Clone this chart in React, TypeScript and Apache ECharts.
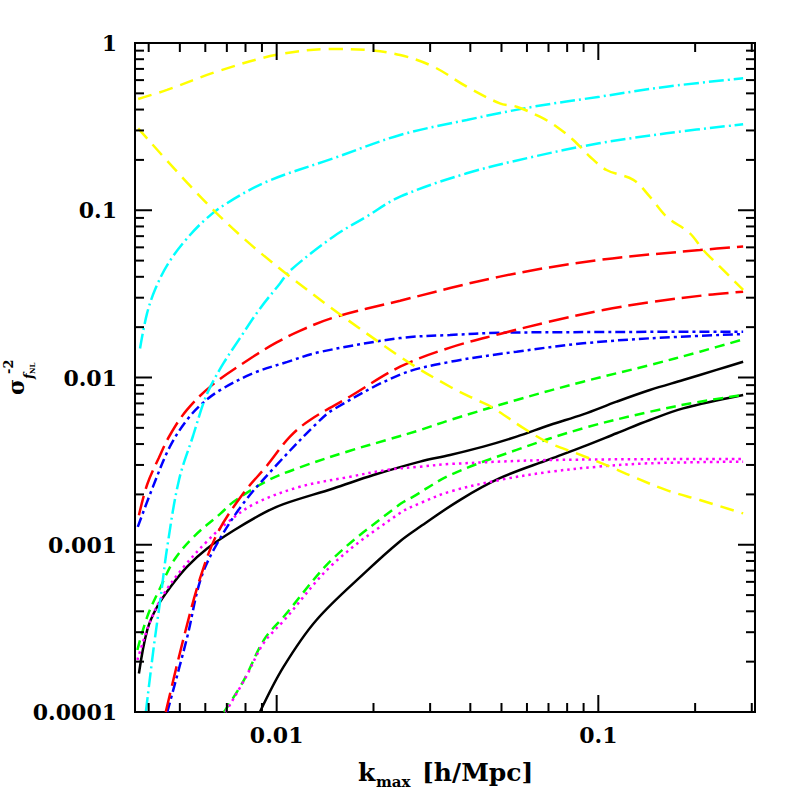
import React, { useEffect, useRef } from 'react';
import * as echarts from 'echarts';

const X_MIN = 0.003627;
const X_MAX = 0.307;
const Y_MIN = 0.0001;
const Y_MAX = 1;

const xTickLabels = ['0.01', '0.1'];
const yTickLabels = ['0.0001', '0.001', '0.01', '0.1', '1'];
const xMajorTicks = [0.01, 0.1];
const xMinorTicks = [0.004, 0.005, 0.006, 0.007, 0.008, 0.009, 0.02, 0.03, 0.04, 0.05, 0.06, 0.07, 0.08, 0.09, 0.2, 0.3];
const yMajorTicks = [0.0001, 0.001, 0.01, 0.1, 1];
const yMinorTicks = [
  0.0002, 0.0003, 0.0004, 0.0005, 0.0006, 0.0007, 0.0008, 0.0009,
  0.002, 0.003, 0.004, 0.005, 0.006, 0.007, 0.008, 0.009,
  0.02, 0.03, 0.04, 0.05, 0.06, 0.07, 0.08, 0.09,
  0.2, 0.3, 0.4, 0.5, 0.6, 0.7, 0.8, 0.9,
];

// [k_max, sigma^-2]
const blackHi = [[0.00373, 0.00017], [0.00396, 0.00031], [0.00425, 0.000426], [0.00468, 0.000561], [0.00527, 0.00074], [0.00608, 0.00095], [0.00737, 0.00122], [0.00913, 0.00155], [0.0105, 0.00175], [0.015, 0.00217], [0.02, 0.00261], [0.0279, 0.00314], [0.0346, 0.00344], [0.0439, 0.00386], [0.0557, 0.00443], [0.0707, 0.0052], [0.0897, 0.00602], [0.114, 0.00717], [0.1446, 0.00842], [0.1836, 0.00966], [0.233, 0.0111], [0.282, 0.01243]];
const blackLo = [[0.00887, 0.0001], [0.0105, 0.000186], [0.0133, 0.000355], [0.0191, 0.0007], [0.0242, 0.00105], [0.0279, 0.00128], [0.0371, 0.00185], [0.0494, 0.0025], [0.0707, 0.00325], [0.0897, 0.00386], [0.114, 0.00464], [0.1446, 0.00557], [0.1836, 0.00654], [0.282, 0.00786]];
const greenHi = [[0.00369, 0.000235], [0.00396, 0.000372], [0.00436, 0.000561], [0.0048, 0.00081], [0.00553, 0.00112], [0.0067, 0.00154], [0.00733, 0.0018], [0.0093, 0.0024], [0.0118, 0.0029], [0.0169, 0.00365], [0.022, 0.00423], [0.0279, 0.00485], [0.0346, 0.00557], [0.0557, 0.00734], [0.0897, 0.00944], [0.1446, 0.01187], [0.207, 0.01427], [0.282, 0.0169]];
const greenLo = [[0.00686, 0.0001], [0.00791, 0.000155], [0.00913, 0.00027], [0.0105, 0.00037], [0.015, 0.00083], [0.0242, 0.00175], [0.0266, 0.00194], [0.0346, 0.00261], [0.0557, 0.00369], [0.0897, 0.00497], [0.1446, 0.00624], [0.207, 0.00717], [0.282, 0.00786]];
const magentaHi = [[0.00369, 0.000205], [0.00406, 0.000355], [0.00447, 0.000512], [0.00515, 0.00074], [0.00608, 0.00105], [0.007, 0.00135], [0.0085, 0.00175], [0.0118, 0.00222], [0.0169, 0.00255], [0.022, 0.0028], [0.0279, 0.00293], [0.0346, 0.00304], [0.0707, 0.00321], [0.282, 0.00326]];
const magentaLo = [[0.00694, 0.0001], [0.008, 0.00016], [0.00913, 0.00026], [0.0105, 0.00035], [0.015, 0.00077], [0.0242, 0.00155], [0.0279, 0.00177], [0.0346, 0.00208], [0.0494, 0.00244], [0.0707, 0.00273], [0.1, 0.00293], [0.1446, 0.00307], [0.282, 0.00314]];
const blueHi = [[0.0037, 0.00128], [0.00412, 0.00221], [0.00465, 0.00384], [0.00526, 0.00557], [0.0059, 0.00705], [0.00667, 0.0084], [0.00844, 0.0106], [0.0108, 0.0124], [0.0136, 0.0142], [0.0242, 0.0172], [0.0346, 0.01795], [0.0494, 0.0185], [0.1, 0.0187], [0.282, 0.0188]];
const blueLo = [[0.00457, 0.0001], [0.00527, 0.00028], [0.0058, 0.00062], [0.0065, 0.001], [0.00788, 0.00177], [0.01, 0.003], [0.0133, 0.0053], [0.015, 0.00643], [0.0242, 0.0104], [0.0346, 0.0124], [0.0557, 0.01427], [0.0897, 0.016], [0.1446, 0.01715], [0.282, 0.0182]];
const redHi = [[0.00373, 0.0015], [0.00396, 0.0023], [0.0043, 0.0033], [0.00465, 0.0045], [0.00526, 0.0064], [0.00634, 0.0091], [0.00844, 0.0133], [0.01, 0.0162], [0.0118, 0.019], [0.015, 0.0228], [0.0242, 0.0288], [0.0494, 0.0401], [0.1, 0.0504], [0.207, 0.0578], [0.282, 0.0608]];
const redLo = [[0.00452, 0.0001], [0.00515, 0.000282], [0.0058, 0.000644], [0.00654, 0.00117], [0.00788, 0.00203], [0.0093, 0.00295], [0.011, 0.00443], [0.0127, 0.00557], [0.0169, 0.0077], [0.0242, 0.0116], [0.0346, 0.0151], [0.0494, 0.0182], [0.0707, 0.0216], [0.1036, 0.0253], [0.1486, 0.0284], [0.2165, 0.0311], [0.282, 0.0326]];
const cyanHi = [[0.00376, 0.0149], [0.00395, 0.024], [0.0042, 0.034], [0.0046, 0.048], [0.0052, 0.066], [0.006, 0.088], [0.007, 0.11], [0.0093, 0.148], [0.015, 0.2044], [0.0242, 0.2818], [0.039, 0.3465], [0.0628, 0.416], [0.101, 0.4775], [0.163, 0.548], [0.282, 0.615]];
const cyanLo = [[0.00392, 0.0001], [0.00415, 0.000246], [0.00436, 0.000489], [0.00457, 0.000974], [0.00497, 0.00244], [0.0055, 0.0045], [0.0059, 0.0069], [0.0062, 0.0087], [0.00682, 0.0121], [0.00769, 0.0172], [0.00887, 0.0258], [0.01024, 0.0365], [0.011, 0.0435], [0.015, 0.0695], [0.019, 0.0915], [0.0242, 0.1205], [0.039, 0.1663], [0.0628, 0.209], [0.1005, 0.2513], [0.163, 0.2884], [0.282, 0.3266]];
const yellowHi = [[0.00371, 0.463], [0.00456, 0.524], [0.00651, 0.674], [0.01, 0.85], [0.015, 0.92], [0.0191, 0.908], [0.0242, 0.848], [0.0307, 0.722], [0.039, 0.548], [0.0494, 0.436], [0.0557, 0.416], [0.0658, 0.3625], [0.0742, 0.316], [0.0836, 0.263], [0.0942, 0.209], [0.106, 0.174], [0.1285, 0.152], [0.1446, 0.1205], [0.163, 0.0915], [0.1927, 0.0728], [0.212, 0.0578], [0.2387, 0.046], [0.282, 0.0334]];
const yellowLo = [[0.00371, 0.309], [0.00651, 0.0959], [0.011, 0.0401], [0.0242, 0.0133], [0.0346, 0.0088], [0.0419, 0.00734], [0.0464, 0.00669], [0.0598, 0.00485], [0.0707, 0.00404], [0.0856, 0.00352], [0.1087, 0.00293], [0.1284, 0.00255], [0.163, 0.00212], [0.207, 0.00185], [0.282, 0.00154]];

const SERIF = '"DejaVu Serif", serif';

function labelFor(v: number, ticks: number[], labels: string[]): string {
  const e = Math.log10(v);
  for (let i = 0; i < ticks.length; i++) {
    if (Math.abs(Math.log10(ticks[i]) - e) < 1e-6) return labels[i];
  }
  return '';
}

function lineSeries(name: string, data: number[][], color: string, dash: any) {
  return {
    name,
    type: 'line',
    data,
    showSymbol: false,
    symbol: 'none',
    smooth: 0.35,
    clip: true,
    z: 2,
    lineStyle: { color, width: 2.5, type: dash, cap: 'butt' },
  };
}

export default function App() {
  const ref = useRef<HTMLDivElement>(null);
  useEffect(() => {
    document.body.style.margin = '0';
    document.body.style.overflow = 'hidden';
    const chart = echarts.init(ref.current!, null, { renderer: 'svg' });

    const xTickData = [
      ...xMajorTicks.map((v) => [v, Y_MIN, 1]),
      ...xMinorTicks.map((v) => [v, Y_MIN, 0]),
    ];
    const yTickData = [
      ...yMajorTicks.map((v) => [X_MIN, v, 1]),
      ...yMinorTicks.map((v) => [X_MIN, v, 0]),
    ];
    const tickStyle = { stroke: '#000', lineWidth: 2 };

    const option: any = {
      animation: false,
      backgroundColor: '#fff',
      grid: {
        left: 135, right: 42, top: 43, bottom: 85,
        show: true, borderColor: '#000', borderWidth: 2, backgroundColor: 'transparent',
      },
      xAxis: {
        type: 'log', logBase: 10, min: X_MIN, max: X_MAX,
        axisLine: { show: false }, axisTick: { show: false }, splitLine: { show: false },
        axisLabel: {
          margin: 12, color: '#000', fontFamily: SERIF, fontWeight: 'bold', fontSize: 22,
          showMinLabel: true, showMaxLabel: true,
          formatter: (v: number) => labelFor(v, xMajorTicks, xTickLabels),
        },
      },
      yAxis: {
        type: 'log', logBase: 10, min: Y_MIN, max: Y_MAX,
        axisLine: { show: false }, axisTick: { show: false }, splitLine: { show: false },
        axisLabel: {
          margin: 18, color: '#000', fontFamily: SERIF, fontWeight: 'bold', fontSize: 22,
          showMinLabel: true, showMaxLabel: true,
          formatter: (v: number) => labelFor(v, yMajorTicks, yTickLabels),
        },
      },
      series: [
        lineSeries('black-hi', blackHi, '#000000', 'solid'),
        lineSeries('black-lo', blackLo, '#000000', 'solid'),
        lineSeries('green-hi', greenHi, '#00ff00', [10, 6]),
        lineSeries('green-lo', greenLo, '#00ff00', [10, 6]),
        lineSeries('magenta-hi', magentaHi, '#ff00ff', [2.5, 4]),
        lineSeries('magenta-lo', magentaLo, '#ff00ff', [2.5, 4]),
        lineSeries('blue-hi', blueHi, '#0000ff', [10, 4, 3, 4]),
        lineSeries('blue-lo', blueLo, '#0000ff', [10, 4, 3, 4]),
        lineSeries('red-hi', redHi, '#ff0000', [20, 7]),
        lineSeries('red-lo', redLo, '#ff0000', [20, 7]),
        lineSeries('cyan-hi', cyanHi, '#00ffff', [15, 4, 2, 4]),
        lineSeries('cyan-lo', cyanLo, '#00ffff', [15, 4, 2, 4]),
        lineSeries('yellow-hi', yellowHi, '#ffff00', [14, 8]),
        lineSeries('yellow-lo', yellowLo, '#ffff00', [14, 8]),
        {
          type: 'custom', name: 'xticks', data: xTickData, encode: { x: 0, y: 1 }, clip: false, z: 5,
          renderItem: (params: any, api: any) => {
            const v = api.value(0);
            const len = api.value(2) ? 17 : 9;
            const pb = api.coord([v, Y_MIN]);
            const pt = api.coord([v, Y_MAX]);
            return {
              type: 'group',
              children: [
                { type: 'line', shape: { x1: pb[0], y1: pb[1], x2: pb[0], y2: pb[1] - len }, style: tickStyle },
                { type: 'line', shape: { x1: pt[0], y1: pt[1], x2: pt[0], y2: pt[1] + len }, style: tickStyle },
              ],
            };
          },
        },
        {
          type: 'custom', name: 'yticks', data: yTickData, encode: { x: 0, y: 1 }, clip: false, z: 5,
          renderItem: (params: any, api: any) => {
            const v = api.value(1);
            const len = api.value(2) ? 17 : 9;
            const pl = api.coord([X_MIN, v]);
            const pr = api.coord([X_MAX, v]);
            return {
              type: 'group',
              children: [
                { type: 'line', shape: { x1: pl[0], y1: pl[1], x2: pl[0] + len, y2: pl[1] }, style: tickStyle },
                { type: 'line', shape: { x1: pr[0], y1: pr[1], x2: pr[0] - len, y2: pr[1] }, style: tickStyle },
              ],
            };
          },
        },
      ],
      graphic: [
        { type: 'text', x: 358, y: 772, style: { text: 'k', font: 'bold 25px ' + SERIF, fill: '#000', align: 'left', verticalAlign: 'middle' } },
        { type: 'text', x: 376, y: 782, style: { text: 'max', font: 'bold 15px ' + SERIF, fill: '#000', align: 'left', verticalAlign: 'middle' } },
        { type: 'text', x: 422, y: 772, style: { text: '[h/Mpc]', font: 'bold 25px ' + SERIF, fill: '#000', align: 'left', verticalAlign: 'middle' } },
        {
          type: 'group', x: 23, y: 395, rotation: Math.PI / 2,
          children: [
            { type: 'text', x: 0, y: -7, style: { text: 'σ', font: 'bold 22px ' + SERIF, fill: '#000', align: 'left', verticalAlign: 'middle' } },
            { type: 'text', x: 21, y: -15, style: { text: '-2', font: 'bold 13px ' + SERIF, fill: '#000', align: 'left', verticalAlign: 'middle' } },
            { type: 'text', x: 16, y: 5, style: { text: 'f', font: 'italic bold 13px ' + SERIF, fill: '#000', align: 'left', verticalAlign: 'middle' } },
            { type: 'text', x: 21, y: 9, style: { text: 'NL', font: 'bold 7px ' + SERIF, fill: '#000', align: 'left', verticalAlign: 'middle' } },
          ],
        },
      ],
    };
    chart.setOption(option);
    return () => chart.dispose();
  }, []);
  return <div ref={ref} style={{ width: 797, height: 797 }} />;
}
